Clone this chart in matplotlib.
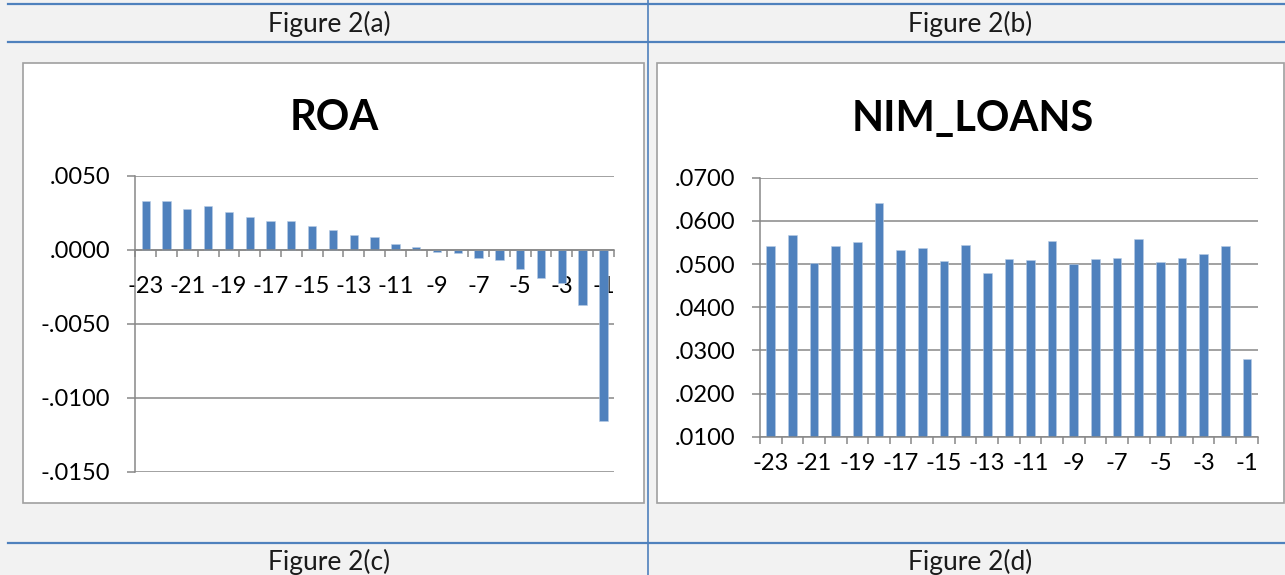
import matplotlib
matplotlib.use("Agg")
import matplotlib.pyplot as plt
from matplotlib.lines import Line2D
from matplotlib.patches import Rectangle
from matplotlib.ticker import FuncFormatter

plt.rcParams['font.family'] = ['Lato', 'DejaVu Sans']

# event-time periods (x categories)
periods = list(range(-23, 0))

roa = [0.00326, 0.00328, 0.00277, 0.00293, 0.00255, 0.00218, 0.00196, 0.00196,
       0.00158, 0.00135, 0.00097, 0.00083, 0.00036, 0.00014, -0.00016, -0.00025,
       -0.00059, -0.00070, -0.00133, -0.00191, -0.00228, -0.00374, -0.01160]

nim_loans = [0.0542, 0.0567, 0.0502, 0.0542, 0.0550, 0.0641, 0.0533, 0.0537,
             0.0506, 0.0543, 0.0480, 0.0511, 0.0509, 0.0553, 0.0499, 0.0511,
             0.0513, 0.0559, 0.0504, 0.0513, 0.0523, 0.0541, 0.0281]

roa_ticks = [-0.015, -0.010, -0.005, 0.0, 0.005]
nim_ticks = [0.01, 0.02, 0.03, 0.04, 0.05, 0.06, 0.07]

captions_top = ["Figure 2(a)", "Figure 2(b)"]
captions_bottom = ["Figure 2(c)", "Figure 2(d)"]

W, H = 1285, 575
BAR = '#4f81bd'
GRID = '#878787'
TABLE = '#4f81bd'


def fx(x):
    return x / W


def fy(y):
    return 1 - y / H


def dec_fmt(v, pos=None):
    s = f"{v:.4f}"
    return s.replace("0.", ".", 1)


fig = plt.figure(figsize=(W / 100, H / 100), dpi=100, facecolor='#f2f2f2')

# table rules
for y in (4, 42, 543):
    fig.add_artist(Line2D([fx(8), 1], [fy(y), fy(y)], color=TABLE, lw=1.6))
fig.add_artist(Line2D([fx(648), fx(648)], [0, 1], color=TABLE, lw=1.2))

# chart area frames (behind the axes)
for x0, x1 in ((23, 644), (657, 1284)):
    fig.add_artist(Rectangle((fx(x0), fy(502.5)), fx(x1 - x0), (502.5 - 63.5) / H,
                             facecolor='white', edgecolor='#a0a0a0', lw=1.2, zorder=-1))

for txt, cx in zip(captions_top, (329, 970)):
    fig.text(fx(cx), fy(32), txt, ha='center', va='baseline', fontsize=19, color='#1a1a1a')
for txt, cx in zip(captions_bottom, (329, 970)):
    fig.text(fx(cx), fy(570), txt, ha='center', va='baseline', fontsize=19, color='#1a1a1a')


def make_axes(left, right, top, bottom):
    return fig.add_axes([fx(left), fy(bottom), fx(right - left), (bottom - top) / H])


def style(ax, ticks, ylim, label_pad_x):
    idx = list(range(len(periods)))
    ax.set_facecolor('none')
    ax.set_xlim(-0.5, len(periods) - 0.5)
    ax.set_ylim(*ylim)
    ax.set_yticks(ticks)
    ax.yaxis.set_major_formatter(FuncFormatter(dec_fmt))
    ax.set_xticks(idx[::2])
    ax.set_xticklabels([str(p) for p in periods[::2]])
    ax.set_xticks([i - 0.5 for i in range(len(periods) + 1)], minor=True)
    ax.grid(axis='y', color=GRID, lw=1.1)
    ax.set_axisbelow(True)
    for s in ('top', 'right'):
        ax.spines[s].set_visible(False)
    for s in ('left', 'bottom'):
        ax.spines[s].set_color(GRID)
        ax.spines[s].set_linewidth(1.1)
    ax.tick_params(axis='y', length=6, width=1.1, color=GRID, pad=12, labelsize=17)
    ax.tick_params(axis='x', which='major', length=0, pad=label_pad_x, labelsize=17)
    ax.tick_params(axis='x', which='minor', length=5, width=1.1, color=GRID)


# Figure 2(a): ROA
ax1 = make_axes(135.3, 613.8, 175.5, 471.7)
ax1.bar(range(len(periods)), roa, width=0.4, color=BAR, edgecolor='#b9cde5',
        linewidth=0.4, zorder=2)
style(ax1, roa_ticks, (-0.015, 0.005), 19)
ax1.spines['bottom'].set_position(('data', 0))
fig.text(fx(333.8), fy(129.5), "ROA", ha='center', va='baseline',
         fontsize=30, fontweight='bold', color='black')

# Figure 2(b): NIM_LOANS
ax2 = make_axes(760, 1257.7, 177.7, 436.7)
ax2.bar(range(len(periods)), nim_loans, width=0.4, color=BAR, edgecolor='#b9cde5',
        linewidth=0.4, zorder=2)
style(ax2, nim_ticks, (0.01, 0.07), 12)
fig.text(fx(972.5), fy(130.5), "NIM_LOANS", ha='center', va='baseline',
         fontsize=30, fontweight='bold', color='black')

fig.savefig("out.png", dpi=100, facecolor=fig.get_facecolor())
